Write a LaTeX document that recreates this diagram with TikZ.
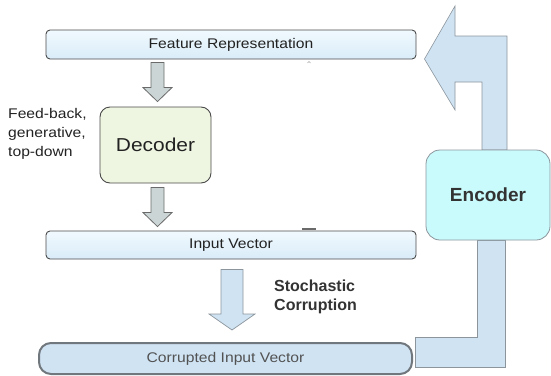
\documentclass[tikz,border=0pt]{standalone}
\usepackage{fontspec}
\setmainfont{Liberation Sans}
\usetikzlibrary{calc}

\definecolor{vectop}{HTML}{F1F9FE}
\definecolor{vecbot}{HTML}{D9ECF8}
\definecolor{boxedge}{HTML}{4A4A4A}
\definecolor{arrowgray}{HTML}{CBD5D5}
\definecolor{arrowedge}{HTML}{6A6A6A}
\definecolor{decgreen}{HTML}{EEF5E1}
\definecolor{enccyan}{HTML}{C9FBFC}
\definecolor{paleblue}{HTML}{CFE3F3}
\definecolor{paleedge}{HTML}{8C959C}
\definecolor{textdark}{HTML}{222222}
\definecolor{textgray}{HTML}{333333}

% regular labels are set slightly wide
\newcommand\widetext[1]{\scalebox{1.12}[1]{#1}}

% downward block arrow: style, top point, tip, half shaft, half head, head length
\newcommand\downblock[6]{%
  \draw[#1] ($(#2)+(-#4,0)$) -- ($(#2)+(#4,0)$) -- ($(#3)+(#4,-#6)$)
    -- ($(#3)+(#5,-#6)$) -- (#3) -- ($(#3)+(-#5,-#6)$) -- ($(#3)+(-#4,-#6)$) -- cycle;}

\begin{document}
\begin{tikzpicture}[x=1pt,y=-1pt,
  vecbox/.style={draw=boxedge, line width=0.9pt, rounded corners=4pt,
    top color=vectop, bottom color=vecbot, minimum width=370pt,
    minimum height=28pt, inner sep=0pt, text=textdark,
    font=\fontsize{14}{16}\selectfont},
  grayarrow/.style={draw=arrowedge, fill=arrowgray, line width=0.8pt},
  bluearrow/.style={draw=paleedge, fill=paleblue, line width=0.7pt},
  bigarrow/.style={draw=paleedge, fill=paleblue, line width=0.6pt},
  label/.style={inner sep=0pt, align=left, anchor=west},
]
\useasboundingbox (0,0) rectangle (551,375);

% boxes
\node[vecbox, minimum height=29pt] (feat) at (231,44.5) {\widetext{Feature Representation}};
\node[vecbox] (inp) at (231,245) {\widetext{Input Vector}};
\node[draw=boxedge, line width=0.9pt, rounded corners=10pt, fill=decgreen,
      minimum width=111pt, minimum height=76pt, inner sep=0pt, text=textdark,
      font=\fontsize{18.7}{20}\selectfont] (dec) at (155.5,145) {\widetext{Decoder}};
\node[draw=paleedge!80!black, line width=2pt, rounded corners=12pt, fill=paleblue,
      minimum width=373pt, minimum height=31pt, inner sep=0pt, text=textgray!85!white,
      font=\fontsize{14}{16}\selectfont] (cor) at (225.5,358.5) {\widetext{Corrupted Input Vector}};

% side labels
\node[label, text=textdark, font=\fontsize{14}{19}\selectfont] (fb) at (8,134)
  {\widetext{Feed-back,}\\\widetext{generative,}\\\widetext{top-down}};
\node[label, text=textgray, font=\fontsize{16}{18.5}\bfseries\selectfont] (sc) at (274,297)
  {Stochastic\\Corruption};

% encoder path: lower leg from the corrupted input, upper leg into the features
\draw[bigarrow] ($(cor.east)+(2,-21.5)$) coordinate (lowin)
  -- ($(lowin)+(62,0)$) |- ($(lowin)+(62,-97)$) coordinate (lowtop)
  -- ($(lowtop)+(28,0)$) -- ($(lowin)+(90,30)$) -- ($(lowin)+(0,30)$) -- cycle;
\coordinate (tipr) at ($(feat.east)+(8,14.5)$);
\draw[bigarrow] (482,150) -- (482,82) -- (455,82) -- (455,110) -- (tipr)
  -- (455,6) -- (455,36) -- (507,36) -- (507,150) -- cycle;

\node[draw=paleedge, line width=0.8pt, rounded corners=14pt, fill=enccyan,
      minimum width=124pt, minimum height=90pt, inner sep=0pt, text=textgray,
      font=\fontsize{19}{21}\bfseries\selectfont] (enc) at (488,195) {Encoder};

% block arrows between the boxes
\coordinate (a1t) at ($(feat.south -| dec.north)+(2,3)$);
\coordinate (a1h) at ($(dec.north)+(2,-5)$);
\downblock{grayarrow}{a1t}{a1h}{6.5}{14.5}{14}
\coordinate (a2t) at ($(dec.south)+(2,4)$);
\coordinate (a2h) at ($(inp.north -| a2t)+(0,-4)$);
\downblock{grayarrow}{a2t}{a2h}{6.5}{14.5}{14}
\coordinate (a3t) at ($(inp.south)+(1,10)$);
\coordinate (a3h) at ($(cor.north -| a3t)+(0,-12)$);
\downblock{bluearrow}{a3t}{a3h}{11}{23}{16}

% small stray marks
\draw[arrowedge, line width=1.2pt] (302,229) -- (316,229);
\draw[arrowedge!60!white, line width=0.6pt] (307.5,63) -- (309,61.5) -- (310.5,63);
\end{tikzpicture}
\end{document}
